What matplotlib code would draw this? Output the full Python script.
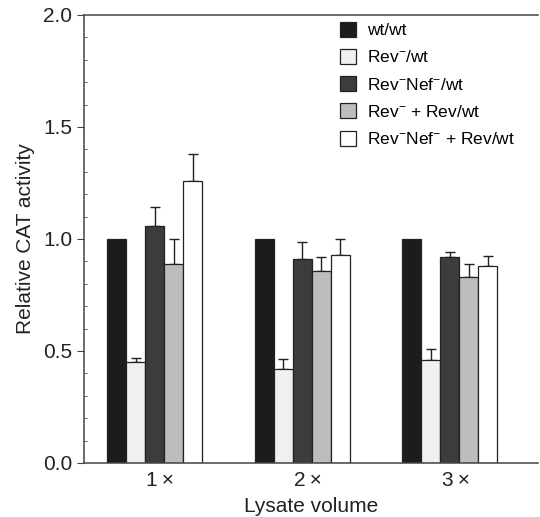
import numpy as np
import matplotlib
matplotlib.use('Agg')
import matplotlib.pyplot as plt

plt.rcParams['font.family'] = ['Liberation Sans', 'DejaVu Sans']
plt.rcParams['mathtext.fontset'] = 'custom'
plt.rcParams['mathtext.rm'] = 'Liberation Sans'
plt.rcParams['mathtext.it'] = 'Liberation Sans'

# data
groups = ['1\u2009\u00d7', '2\u2009\u00d7', '3\u2009\u00d7']
labels = ['wt/wt', r'Rev$^{-}$/wt', r'Rev$^{-}$Nef$^{-}$/wt',
          r'Rev$^{-}$ + Rev/wt', r'Rev$^{-}$Nef$^{-}$ + Rev/wt']
wt_wt = [1.0, 1.0, 1.0]
rev_wt = [0.45, 0.42, 0.46]
revnef_wt = [1.06, 0.91, 0.92]
rev_rev_wt = [0.89, 0.855, 0.83]
revnef_rev_wt = [1.26, 0.93, 0.88]
values = [wt_wt, rev_wt, revnef_wt, rev_rev_wt, revnef_rev_wt]

# upward error only
err_wt = [0, 0, 0]
err_rev = [0.02, 0.045, 0.05]
err_revnef = [0.085, 0.075, 0.02]
err_rev_rev = [0.11, 0.065, 0.06]
err_revnef_rev = [0.12, 0.07, 0.046]
errors = [err_wt, err_rev, err_revnef, err_rev_rev, err_revnef_rev]

colors = ['#1c1c1c', '#f0f0f0', '#3c3c3c', '#bdbdbd', '#ffffff']

fig = plt.figure(figsize=(5.4, 5.17), dpi=100)
ax = fig.add_axes([0.1556, 0.1045, 0.841, 0.8665])

x = np.arange(len(groups))
w = 0.129
for i in range(5):
    pos = x + (i - 2) * w
    ax.bar(pos, values[i], width=w, color=colors[i], edgecolor='#222222',
           linewidth=0.9, label=labels[i], zorder=2)
    if i > 0:
        ax.errorbar(pos, values[i], yerr=[np.zeros(3), errors[i]], fmt='none',
                    ecolor='#222222', elinewidth=1, capsize=3.6, capthick=1, zorder=1)

ax.set_xlim(-0.478, 2.6)
ax.set_ylim(0, 2.0)
ax.set_xticks(x + 0.04)
ax.set_xticklabels(groups)
ax.set_yticks([0, 0.5, 1.0, 1.5, 2.0])
ax.set_yticks(np.arange(0, 2.0, 0.1), minor=True)
ax.tick_params(axis='x', length=0, labelsize=15, pad=6, labelcolor='#222222')
ax.tick_params(axis='y', which='major', direction='out', length=5, labelsize=15,
               color='#444444', labelcolor='#222222')
ax.tick_params(axis='y', which='minor', direction='in', length=2.5, color='#444444')
ax.spines['right'].set_visible(False)
for s in ['left', 'bottom', 'top']:
    ax.spines[s].set_color('#444444')
    ax.spines[s].set_linewidth(1.1)

ax.set_ylabel('Relative CAT activity', fontsize=15, labelpad=6, color='#222222')
ax.set_xlabel('Lysate volume', fontsize=15, labelpad=5, color='#222222')

ax.legend(loc='upper left', bbox_to_anchor=(0.564, 0.985), frameon=False,
          fontsize=12.5, handlelength=0.92, handleheight=0.95, handletextpad=0.6,
          labelspacing=0.62, borderpad=0, borderaxespad=0)

fig.savefig('out.png', dpi=100)
